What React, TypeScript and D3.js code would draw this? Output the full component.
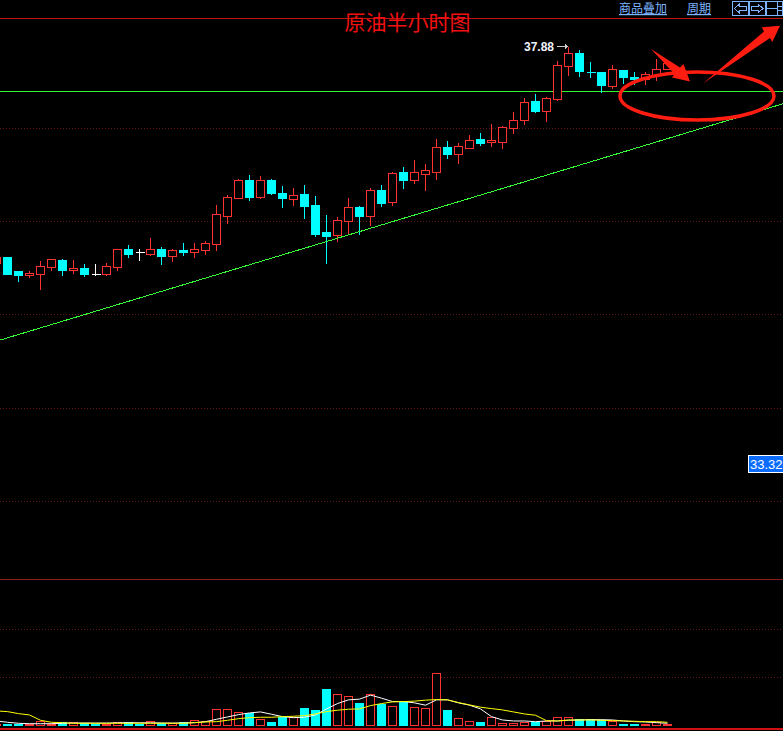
import React from 'react'
import * as d3 from 'd3'

// half hour crude oil, first candle is cut off by the left edge
const opens = [35.51, 35.58, 35.43, 35.38, 35.39, 35.47, 35.55, 35.44, 35.46, 35.39, 35.39, 35.47, 35.67, 35.63, 35.61, 35.67, 35.59, 35.65, 35.63, 35.65, 35.72, 36.03, 36.22, 36.42, 36.23, 36.42, 36.28, 36.21, 36.27, 36.15, 35.85, 35.82, 35.97, 36.12, 36.02, 36.31, 36.18, 36.51, 36.42, 36.48, 36.51, 36.78, 36.70, 36.77, 36.87, 36.83, 36.83, 36.99, 37.07, 37.28, 37.17, 37.30, 37.66, 37.80, 37.60, 37.60, 37.44, 37.62, 37.54, 37.52, 37.56, 37.63]
const closes = [35.58, 35.39, 35.38, 35.40, 35.48, 35.56, 35.44, 35.46, 35.39, 35.39, 35.48, 35.67, 35.61, 35.63, 35.67, 35.59, 35.65, 35.63, 35.67, 35.73, 36.05, 36.23, 36.42, 36.23, 36.42, 36.28, 36.22, 36.25, 36.13, 35.83, 35.81, 35.98, 36.12, 36.02, 36.31, 36.17, 36.49, 36.42, 36.51, 36.53, 36.78, 36.70, 36.79, 36.85, 36.82, 36.85, 37.00, 37.07, 37.27, 37.17, 37.31, 37.67, 37.80, 37.61, 37.60, 37.45, 37.63, 37.54, 37.52, 37.57, 37.63, 37.69]
const highs = [35.58, 35.58, 35.43, 35.44, 35.55, 35.56, 35.57, 35.56, 35.51, 35.51, 35.52, 35.68, 35.72, 35.68, 35.80, 35.70, 35.68, 35.74, 35.74, 35.76, 36.16, 36.27, 36.44, 36.48, 36.47, 36.44, 36.36, 36.34, 36.37, 36.25, 36.05, 36.03, 36.23, 36.15, 36.34, 36.37, 36.52, 36.57, 36.65, 36.60, 36.88, 36.85, 36.83, 36.92, 36.94, 37.04, 37.02, 37.17, 37.32, 37.37, 37.33, 37.73, 37.88, 37.85, 37.72, 37.60, 37.68, 37.63, 37.61, 37.61, 37.75, 37.73]
const lows = [35.51, 35.39, 35.32, 35.36, 35.23, 35.44, 35.38, 35.40, 35.37, 35.38, 35.38, 35.44, 35.58, 35.55, 35.60, 35.50, 35.53, 35.60, 35.58, 35.61, 35.65, 35.95, 36.22, 36.20, 36.22, 36.27, 36.12, 36.15, 36.00, 35.81, 35.51, 35.75, 35.83, 35.83, 35.93, 36.13, 36.15, 36.33, 36.39, 36.31, 36.43, 36.66, 36.60, 36.77, 36.80, 36.79, 36.77, 36.93, 37.03, 37.16, 37.06, 37.29, 37.56, 37.55, 37.54, 37.38, 37.42, 37.48, 37.47, 37.47, 37.51, 37.63]
const whiteCrosses = [9, 13]

const volumes = [130, 130, 130, 130, 370, 100, 270, 300, 170, 130, 130, 300, 300, 130, 370, 170, 170, 300, 470, 370, 1570, 1570, 1270, 1170, 570, 300, 770, 770, 1700, 1500, 3600, 3070, 2870, 2200, 3070, 2070, 1870, 2270, 1770, 1670, 5170, 1500, 670, 370, 300, 770, 170, 170, 270, 270, 370, 770, 770, 570, 570, 500, 370, 100, 100, 130, 270, 100]
const ma5 = [400, 270, 170, 130, 130, 130, 170, 200, 200, 190, 190, 220, 230, 220, 220, 200, 190, 210, 230, 330, 570, 800, 1030, 1200, 1300, 1070, 830, 730, 770, 1000, 1600, 2130, 2500, 2570, 2970, 2670, 2330, 2330, 2200, 1970, 2500, 2500, 2200, 1970, 1600, 830, 500, 400, 400, 330, 400, 400, 470, 500, 530, 530, 500, 400, 330, 300, 230, 170]
const ma10 = [1400, 1330, 1130, 1000, 470, 270, 230, 170, 170, 170, 170, 170, 170, 170, 170, 170, 170, 170, 230, 300, 330, 470, 630, 730, 770, 770, 830, 870, 930, 1100, 1330, 1470, 1570, 1600, 1930, 2130, 2300, 2330, 2370, 2470, 2530, 2500, 2230, 2000, 1770, 1630, 1500, 1300, 1100, 970, 430, 400, 500, 500, 500, 470, 430, 400, 370, 330, 330, 270]

const gridPrices = [36.99, 35.97, 34.96, 33.93, 32.92]
const trendIndex = [0, 71.5]
const trendPrice = [34.66, 37.25]
const supportPrice = 37.39
const highLabel = '37.88'
const lastPrice = '33.32'
const title = '原油半小时图'

const width = 783
const height = 731
const RED = '#ff3232'
const CYAN = '#00ffff'
const LINK = '#7db4ff'
const MARK = '#ff1c10'
const GRID = '#641616'

const x = d3.scaleLinear().domain([0, 71]).range([-3.5, 777.5])
const y = d3.scaleLinear().domain([33.32, 37.88]).range([464, 46])
const yVol = d3.scaleLinear().domain([0, 5170]).range([725, 673])

const snap = (v: number) => Math.round(v) + 0.5

const volLine = d3.line<number>().x((_, i) => x(i)).y(d => yVol(d))
const shape = d3.line()

// hand drawn arrows on top of the chart
const arrowA: [number, number][] = [[651, 49], [680, 67.5], [683.5, 64], [690, 81.5], [672, 77.5], [674.5, 74]]
const arrowB: [number, number][] = [[703, 83.5], [764, 31.5], [761.7, 27.3], [780, 25.7], [772.3, 42], [770, 38]]

const candleColor = (i: number) => {
  if (opens[i] === closes[i]) return whiteCrosses.includes(i) ? '#ffffff' : CYAN
  return closes[i] > opens[i] ? RED : CYAN
}

const Candle = ({ i }: { i: number }) => {
  const color = candleColor(i)
  const cx = snap(x(i) - 0.5)
  const top = snap(y(Math.max(opens[i], closes[i])))
  const bottom = snap(y(Math.min(opens[i], closes[i])))
  return (
    <g stroke={color}>
      <line x1={cx} x2={cx} y1={snap(y(highs[i]))} y2={snap(y(lows[i]))} />
      {top === bottom ? (
        <line x1={cx - 4} x2={cx + 5} y1={top} y2={top} />
      ) : (
        <rect
          x={cx - 4}
          y={top}
          width={8}
          height={bottom - top}
          fill={color === CYAN ? CYAN : '#000'}
        />
      )}
    </g>
  )
}

const VolumeBar = ({ i }: { i: number }) => {
  const color = closes[i] > opens[i] ? RED : CYAN
  const cx = snap(x(i) - 0.5)
  const top = snap(yVol(volumes[i]))
  return (
    <rect
      x={cx - 4}
      y={top}
      width={8}
      height={Math.max(snap(yVol(0)) - top, 1)}
      fill={color === CYAN ? CYAN : '#000'}
      stroke={color}
    />
  )
}

const Button = ({ bx, children }: { bx: number; children: React.ReactNode }) => (
  <g transform={`translate(${bx},1.5)`} fill="none" stroke={LINK}>
    <rect width={15.5} height={13.5} />
    {children}
  </g>
)

export default function App() {
  return (
    <svg
      width={width}
      height={height}
      style={{ position: 'fixed', left: 0, top: 0, display: 'block', background: '#000' }}
    >
      <rect width={width} height={height} fill="#000" />

      <g shapeRendering="crispEdges">
        {gridPrices.map(p => (
          <line key={p} x1={0} x2={width} y1={snap(y(p))} y2={snap(y(p))} stroke={GRID} strokeDasharray="1 2" />
        ))}
        <line x1={0} x2={width} y1={629.5} y2={629.5} stroke={GRID} strokeDasharray="1 2" />
        <line x1={0} x2={width} y1={677.5} y2={677.5} stroke={GRID} strokeDasharray="1 2" />
        <line x1={0} x2={width} y1={18.5} y2={18.5} stroke="#c01010" />
        <line x1={0} x2={width} y1={579.5} y2={579.5} stroke="#8a1c1c" />
        <line x1={0} x2={width} y1={728.5} y2={728.5} stroke="#d01010" strokeWidth={2} />
        <line x1={0} x2={width} y1={snap(y(supportPrice))} y2={snap(y(supportPrice))} stroke="#35f535" />
      </g>

      <g shapeRendering="crispEdges">
        {opens.map((_, i) => <Candle key={i} i={i} />)}
        {volumes.map((_, i) => <VolumeBar key={i} i={i} />)}
      </g>

      <line
        x1={x(trendIndex[0])}
        x2={x(trendIndex[1])}
        y1={y(trendPrice[0])}
        y2={y(trendPrice[1])}
        stroke="#33ff33"
        shapeRendering="crispEdges"
      />

      <path d={volLine(ma5) ?? ''} fill="none" stroke="#ffffff" strokeWidth={1} />
      <path d={volLine(ma10) ?? ''} fill="none" stroke="#ffff00" strokeWidth={1} />

      {/* high marker */}
      <text x={524} y={51} fill="#f4f4ff" fontFamily="'Liberation Sans', sans-serif" fontWeight="bold" fontSize={12}>
        {highLabel}
      </text>
      <g stroke="#cccccc" fill="none" shapeRendering="crispEdges">
        <line x1={557} x2={568} y1={46.5} y2={46.5} />
        <path d="M565 44.5 L567 46.5 L565 48.5" />
      </g>

      {/* last price tag */}
      <rect x={748.5} y={455.5} width={35} height={17} fill="#0a6cff" stroke="#ffffff" shapeRendering="crispEdges" />
      <text x={750} y={469} fill="#ffffff" fontFamily="'Liberation Sans', sans-serif" fontSize={13}>
        {lastPrice}
      </text>

      {/* toolbar */}
      <g fill={LINK} fontFamily="'Noto Sans CJK SC', sans-serif" fontSize={12} textDecoration="underline">
        <text x={619} y={13}>商品叠加</text>
        <text x={687} y={13}>周期</text>
      </g>
      <g shapeRendering="crispEdges">
        <Button bx={732.5}>
          <path d="M2 7 L7 2.5 V5 H13.5 V9 H7 V11.5 Z" />
        </Button>
        <Button bx={749.5}>
          <path d="M13.5 7 L8.5 2.5 V5 H2 V9 H8.5 V11.5 Z" />
        </Button>
        <Button bx={766.5}>
          <path d="M10.5 0 V13.5 M10.5 4.5 H15.5 M10.5 9 H15.5 M0 7 H10.5" />
        </Button>
      </g>

      <text
        x={407.5}
        y={29.5}
        textAnchor="middle"
        fill="#f01010"
        fontFamily="'Noto Sans CJK SC', sans-serif"
        fontSize={21}
      >
        {title}
      </text>

      {/* annotations */}
      <ellipse cx={697} cy={96} rx={77} ry={24} fill="none" stroke={MARK} strokeWidth={3.5} />
      <path d={`${shape(arrowA)}Z`} fill={MARK} />
      <path d={`${shape(arrowB)}Z`} fill={MARK} />
    </svg>
  )
}
